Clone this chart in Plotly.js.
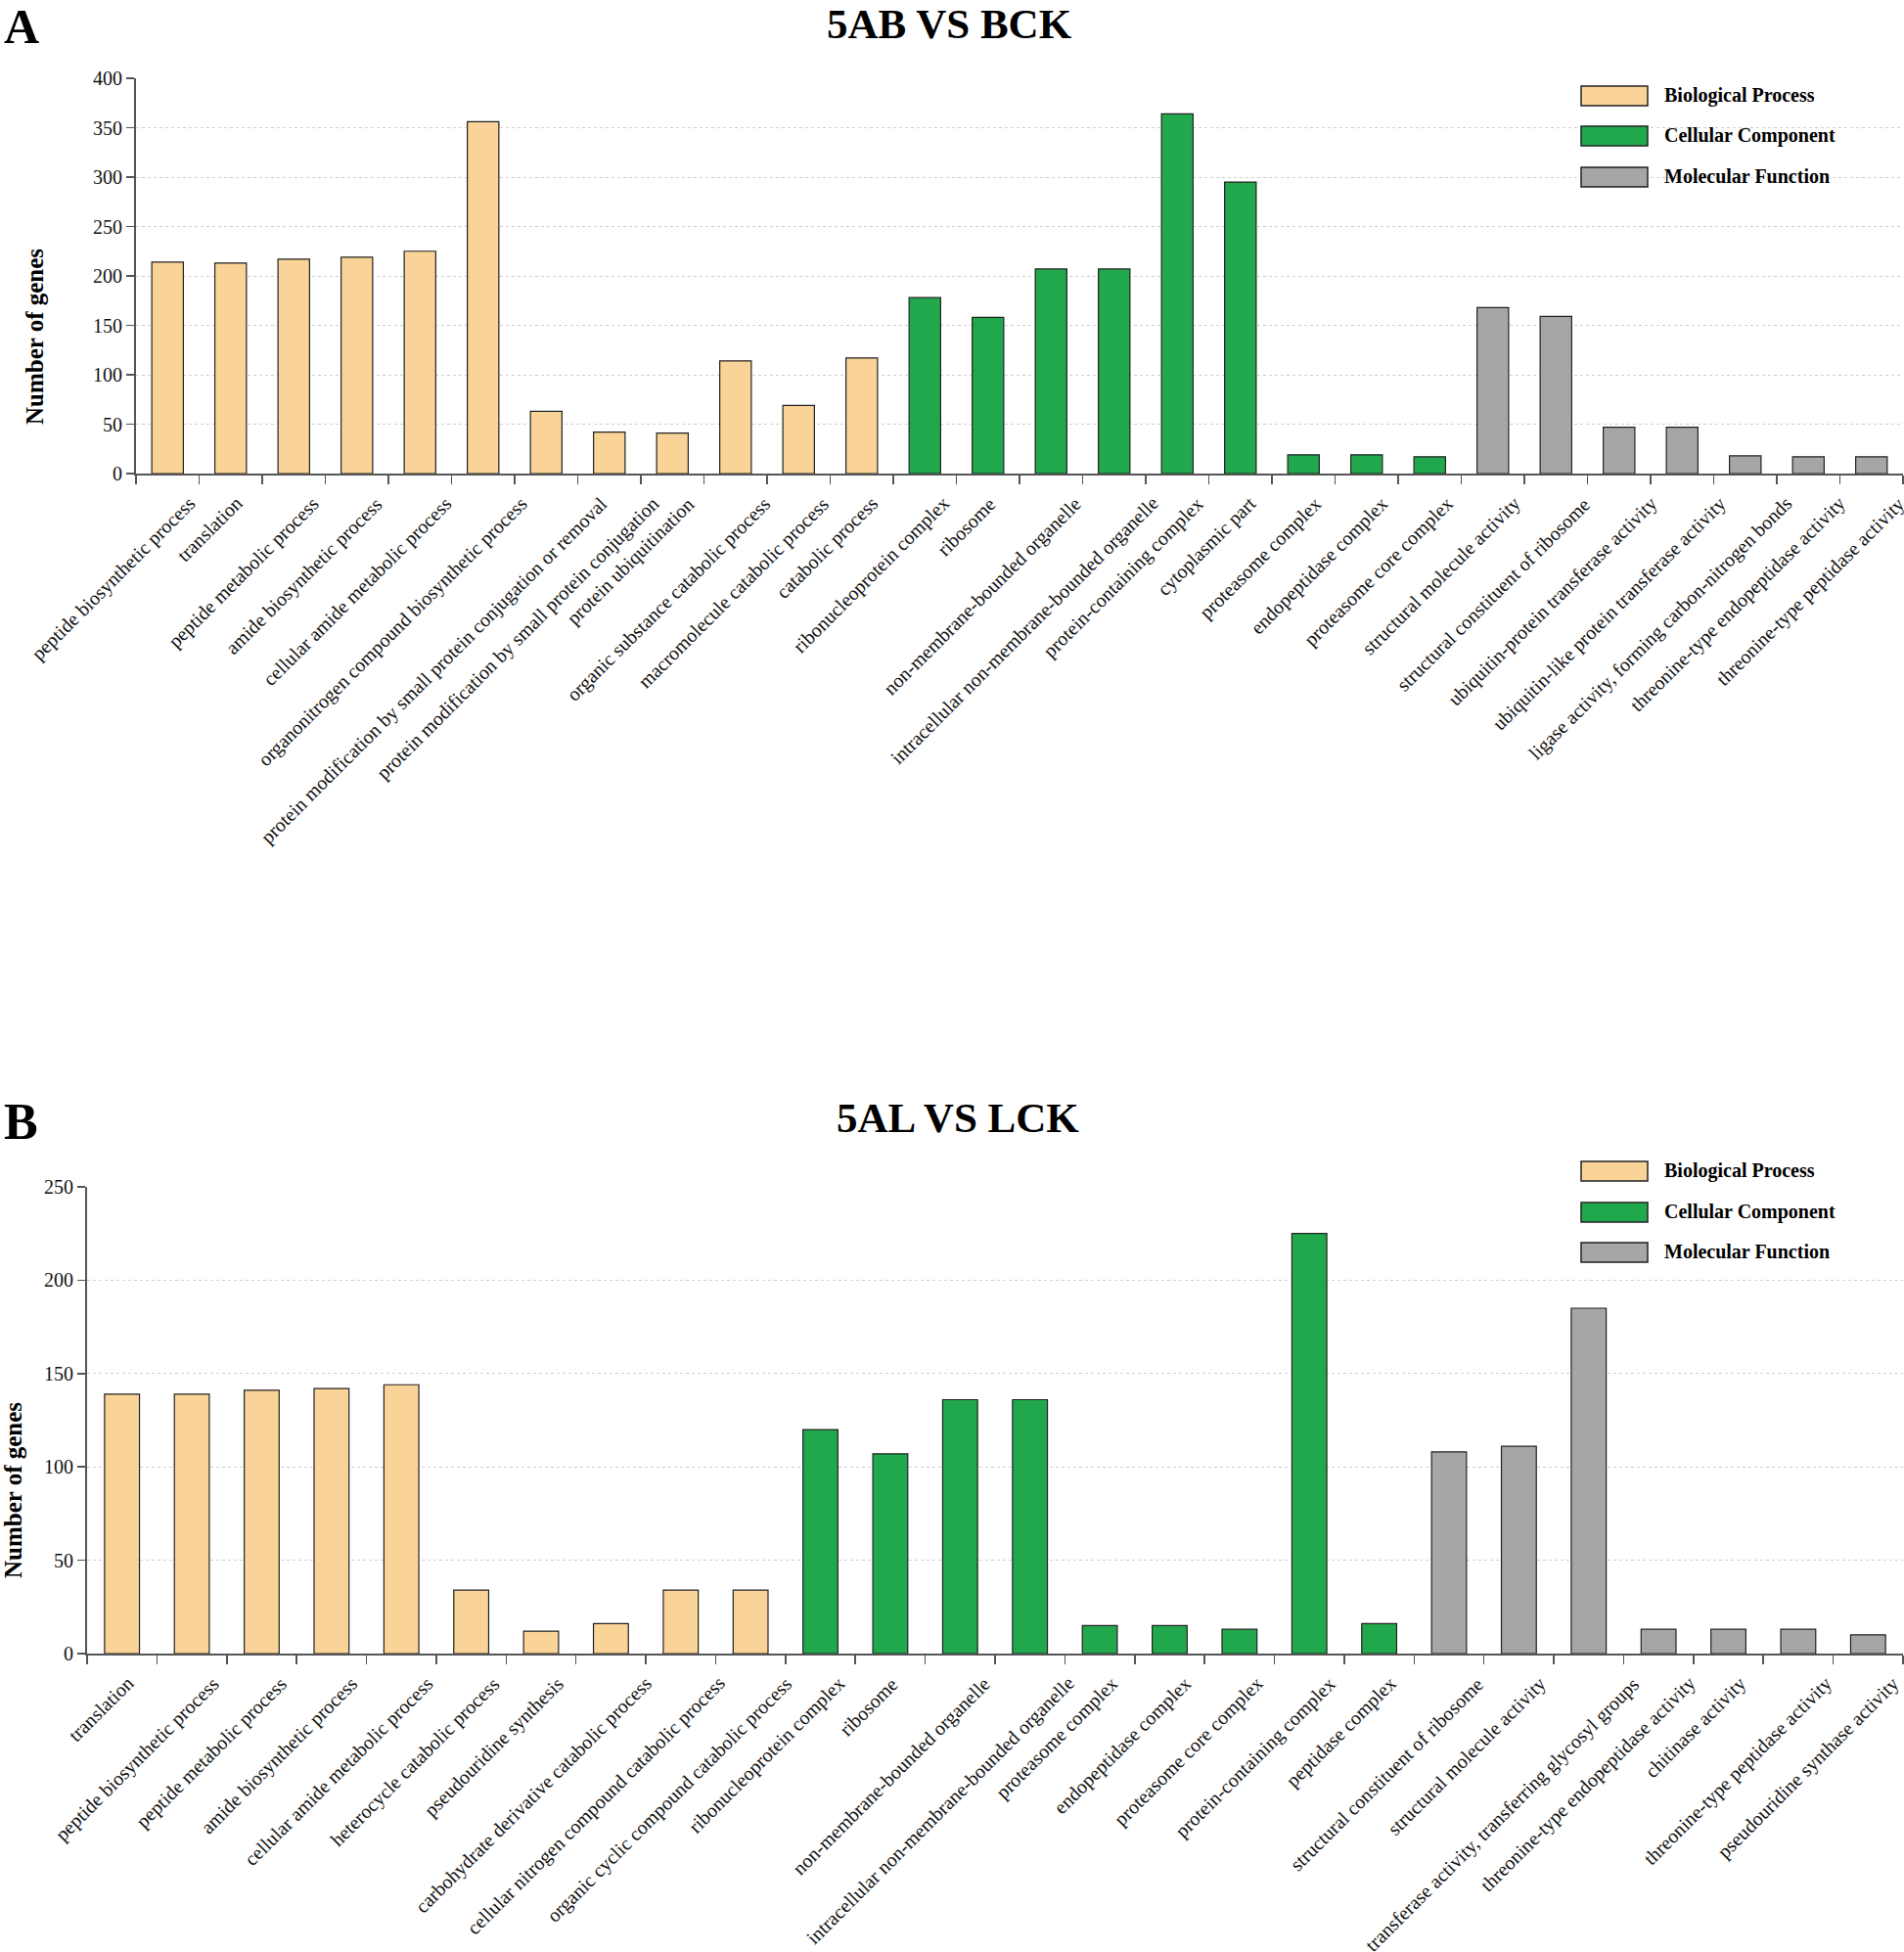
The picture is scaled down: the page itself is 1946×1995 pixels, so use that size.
<!DOCTYPE html>
<html>
<head>
<meta charset="utf-8">
<script src="https://cdn.plot.ly/plotly-3.0.1.min.js"></script>
<style>
html,body{margin:0;padding:0;background:#fff;}
#chart{width:1946px;height:1995px;}
</style>
</head>
<body>
<div id="chart"></div>
<script>
// ---------- Data ----------
const groupNames = ["Biological Process", "Cellular Component", "Molecular Function"];

const categoriesA = [
  "peptide biosynthetic process", "translation", "peptide metabolic process",
  "amide biosynthetic process", "cellular amide metabolic process",
  "organonitrogen compound biosynthetic process",
  "protein modification by small protein conjugation or removal",
  "protein modification by small protein conjugation", "protein ubiquitination",
  "organic substance catabolic process", "macromolecule catabolic process",
  "catabolic process",
  "ribonucleoprotein complex", "ribosome", "non-membrane-bounded organelle",
  "intracellular non-membrane-bounded organelle", "protein-containing complex",
  "cytoplasmic part", "proteasome complex", "endopeptidase complex",
  "proteasome core complex",
  "structural molecule activity", "structural constituent of ribosome",
  "ubiquitin-protein transferase activity", "ubiquitin-like protein transferase activity",
  "ligase activity, forming carbon-nitrogen bonds",
  "threonine-type endopeptidase activity", "threonine-type peptidase activity"
];
const valuesA = [214, 213, 217, 219, 225, 356, 63, 42, 41, 114, 69, 117,
                 178, 158, 207, 207, 364, 295, 19, 19, 17,
                 168, 159, 47, 47, 18, 17, 17];
const groupsA = [0,0,0,0,0,0,0,0,0,0,0,0, 1,1,1,1,1,1,1,1,1, 2,2,2,2,2,2,2];

const categoriesB = [
  "translation", "peptide biosynthetic process", "peptide metabolic process",
  "amide biosynthetic process", "cellular amide metabolic process",
  "heterocycle catabolic process", "pseudouridine synthesis",
  "carbohydrate derivative catabolic process",
  "cellular nitrogen compound catabolic process",
  "organic cyclic compound catabolic process",
  "ribonucleoprotein complex", "ribosome", "non-membrane-bounded organelle",
  "intracellular non-membrane-bounded organelle", "proteasome complex",
  "endopeptidase complex", "proteasome core complex", "protein-containing complex",
  "peptidase complex",
  "structural constituent of ribosome", "structural molecule activity",
  "transferase activity, transferring glycosyl groups",
  "threonine-type endopeptidase activity", "chitinase activity",
  "threonine-type peptidase activity", "pseudouridine synthase activity"
];
const valuesB = [139, 139, 141, 142, 144, 34, 12, 16, 34, 34,
                 120, 107, 136, 136, 15, 15, 13, 225, 16,
                 108, 111, 185, 13, 13, 13, 10];
const groupsB = [0,0,0,0,0,0,0,0,0,0, 1,1,1,1,1,1,1,1,1, 2,2,2,2,2,2,2];

const titleA = "5AB VS BCK";
const titleB = "5AL VS LCK";
const yTitle = "Number of genes";

// ---------- Styles ----------
const groupColors = ["#FAD398", "#21A84D", "#A6A6A6"];
const W = 1946, H = 1995;
const FONT = "Liberation Serif, Times New Roman, serif";
const px = x => x / W;
const py = y => 1 - y / H;
const AXIS_A_BOTTOM = 484, AXIS_B_BOTTOM = 1690;

function barTrace(cats, vals, groups, xa, ya) {
  return {
    type: "bar", x: cats, y: vals, xaxis: xa, yaxis: ya,
    width: 0.5,
    marker: { color: groups.map(g => groupColors[g]), line: { color: "#222", width: 1.2 } },
    showlegend: false, hoverinfo: "x+y"
  };
}

const data = [
  barTrace(categoriesA, valuesA, groupsA, "x", "y"),
  barTrace(categoriesB, valuesB, groupsB, "x2", "y2")
];

function xAxis(domain, anchor, cats) {
  return {
    domain: domain, anchor: anchor, type: "category",
    categoryorder: "array", categoryarray: cats,
    range: [-0.5, cats.length - 0.5],
    showline: true, linecolor: "#555", linewidth: 2,
    ticks: "outside", tickson: "boundaries", ticklen: 9, tickcolor: "#555", tickwidth: 1.5,
    showticklabels: false,
    showgrid: false, automargin: false, fixedrange: true
  };
}
function yAxis(domain, anchor, range) {
  return {
    domain: domain, anchor: anchor, range: range, dtick: 50,
    showline: true, linecolor: "#555", linewidth: 2,
    ticks: "outside", ticklen: 8, tickcolor: "#555", tickwidth: 1.5,
    tickfont: { family: FONT, size: 20, color: "#111" },
    showgrid: true, gridcolor: "#cfcfcf", griddash: "dot", gridwidth: 1,
    zeroline: false, automargin: false, fixedrange: true
  };
}

const annotations = [
  { text: "<b>A</b>", x: px(2), y: py(27), xref: "paper", yref: "paper", xanchor: "left", yanchor: "middle", showarrow: false, font: { family: FONT, size: 50, color: "#000" } },
  { text: "<b>B</b>", x: px(2), y: py(1146), xref: "paper", yref: "paper", xanchor: "left", yanchor: "middle", showarrow: false, font: { family: FONT, size: 52, color: "#000" } },
  { text: "<b>" + titleA + "</b>", x: px(970), y: py(24), xref: "paper", yref: "paper", xanchor: "center", yanchor: "middle", showarrow: false, font: { family: FONT, size: 43, color: "#000" } },
  { text: "<b>" + titleB + "</b>", x: px(979), y: py(1142), xref: "paper", yref: "paper", xanchor: "center", yanchor: "middle", showarrow: false, font: { family: FONT, size: 43, color: "#000" } },
  { text: "<b>" + yTitle + "</b>", x: px(35), y: py(344), xref: "paper", yref: "paper", xanchor: "center", yanchor: "middle", textangle: -90, showarrow: false, font: { family: FONT, size: 25, color: "#000" } },
  { text: "<b>" + yTitle + "</b>", x: px(13), y: py(1523), xref: "paper", yref: "paper", xanchor: "center", yanchor: "middle", textangle: -90, showarrow: false, font: { family: FONT, size: 25, color: "#000" } }
];

// category tick labels, rotated 45 degrees, placed at each category's serial position on the axis
function addCategoryLabels(cats, xref, axisBottomPx) {
  cats.forEach((c, i) => {
    annotations.push({
      text: c, x: i, xref: xref, y: py(axisBottomPx), yref: "paper",
      xanchor: "right", yanchor: "top", textangle: -45, showarrow: false,
      xshift: 1.05 * c.length + 6.6, yshift: -16.6,
      font: { family: FONT, size: 20, color: "#111" }
    });
  });
}
addCategoryLabels(categoriesA, "x", AXIS_A_BOTTOM);
addCategoryLabels(categoriesB, "x2", AXIS_B_BOTTOM);

const shapes = [];
// custom legends (boxes + labels)
function addLegend(topYs) {
  topYs.forEach((ty, i) => {
    shapes.push({ type: "rect", xref: "paper", yref: "paper",
      x0: px(1616), x1: px(1684), y0: py(ty), y1: py(ty + 20),
      fillcolor: groupColors[i], line: { color: "#222", width: 1.5 } });
    annotations.push({ text: "<b>" + groupNames[i] + "</b>", x: px(1699), y: py(ty + 9),
      xref: "paper", yref: "paper", xanchor: "left", yanchor: "middle", showarrow: false,
      font: { family: FONT, size: 20, color: "#000" } });
  });
}
addLegend([88, 129, 171]);
addLegend([1187, 1229, 1270]);

const layout = {
  width: W, height: H,
  margin: { l: 0, r: 0, t: 0, b: 0 },
  paper_bgcolor: "#fff", plot_bgcolor: "rgba(0,0,0,0)",
  font: { family: FONT, color: "#000" },
  barmode: "overlay",
  showlegend: false,
  xaxis: xAxis([px(139), px(1945)], "y", categoriesA),
  yaxis: yAxis([py(AXIS_A_BOTTOM), py(80)], "x", [0, 400]),
  xaxis2: xAxis([px(89), px(1945)], "y2", categoriesB),
  yaxis2: yAxis([py(AXIS_B_BOTTOM), py(1213)], "x2", [0, 250]),
  annotations: annotations,
  shapes: shapes
};

Plotly.newPlot("chart", data, layout, { displayModeBar: false, staticPlot: true });
</script>
</body>
</html>
